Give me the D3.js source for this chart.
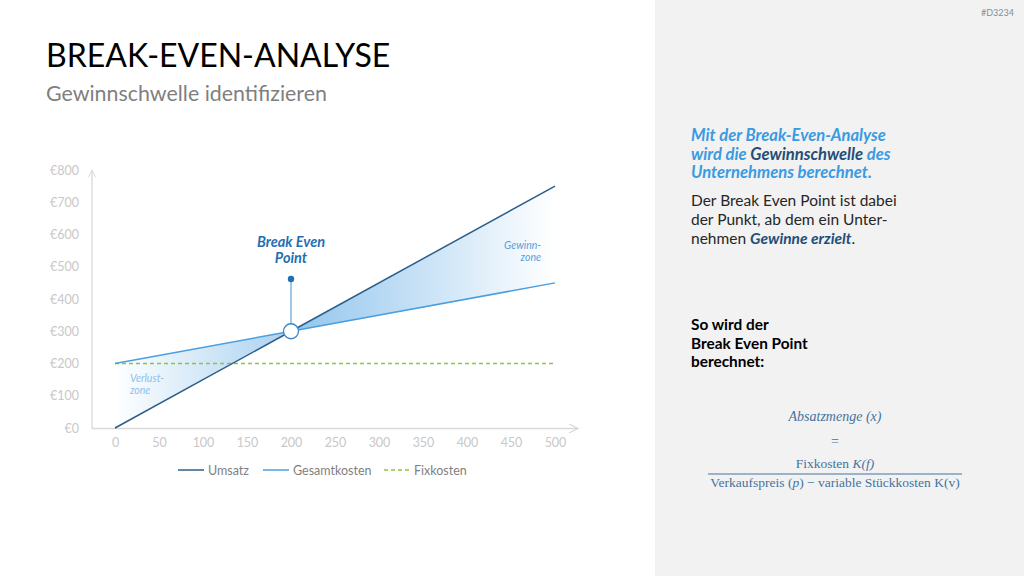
<!DOCTYPE html>
<html>
<head>
<meta charset="utf-8">
<script src="https://cdn.jsdelivr.net/npm/d3@7"></script>
<style>
  body { margin: 0; background: #fff; }
  svg { font-family: Lato, "Open Sans", sans-serif; }
</style>
</head>
<body>
<div id="chart"></div>
<script>
// data
var quantities = [0, 200, 500];
var umsatz = [0, 300, 750];
var gesamtkosten = [200, 300, 450];
var fixkosten = [200, 200, 200];
var breakEven = { x: 200, y: 300 };
var markerTop = 462;
var xTicks = [0, 50, 100, 150, 200, 250, 300, 350, 400, 450, 500];
var yTicks = [0, 100, 200, 300, 400, 500, 600, 700, 800];
var legendItems = ["Umsatz", "Gesamtkosten", "Fixkosten"];

var W = 1024, H = 576;
var svg = d3.select("#chart").append("svg")
    .attr("width", W)
    .attr("height", H);

// right grey panel
svg.append("rect")
    .attr("x", 655).attr("y", 0)
    .attr("width", W - 655).attr("height", H)
    .attr("fill", "#f2f2f2");

svg.append("text")
    .attr("x", 1014).attr("y", 16)
    .attr("text-anchor", "end")
    .attr("font-size", 9)
    .attr("fill", "#8c8c8c")
    .text("#D3234");

// title
svg.append("text")
    .attr("x", 46).attr("y", 67)
    .attr("font-size", 32)
    .attr("fill", "#000")
    .text("BREAK-EVEN-ANALYSE");
svg.append("text")
    .attr("x", 46).attr("y", 101)
    .attr("font-size", 21.4)
    .attr("fill", "#7f7f7f")
    .text("Gewinnschwelle identifizieren");

// scales
var x = d3.scaleLinear().domain([0, 500]).range([115, 555]);
var y = d3.scaleLinear().domain([0, 800]).range([428, 170]);

var defs = svg.append("defs");
var gLoss = defs.append("linearGradient")
    .attr("id", "lossGrad")
    .attr("gradientUnits", "userSpaceOnUse")
    .attr("x1", x(0)).attr("x2", x(200)).attr("y1", 0).attr("y2", 0);
gLoss.append("stop").attr("offset", "0%").attr("stop-color", "#ffffff");
gLoss.append("stop").attr("offset", "100%").attr("stop-color", "#a9d1f1");

var gWin = defs.append("linearGradient")
    .attr("id", "winGrad")
    .attr("gradientUnits", "userSpaceOnUse")
    .attr("x1", x(200)).attr("x2", x(500)).attr("y1", 0).attr("y2", 0);
gWin.append("stop").attr("offset", "0%").attr("stop-color", "#92c5ed");
gWin.append("stop").attr("offset", "100%").attr("stop-color", "#ffffff");

defs.append("marker")
    .attr("id", "arrow")
    .attr("viewBox", "0 0 10 10")
    .attr("refX", 9).attr("refY", 5)
    .attr("markerWidth", 7).attr("markerHeight", 7)
    .attr("orient", "auto")
    .append("path")
    .attr("d", "M1,1 L9,5 L1,9")
    .attr("fill", "none")
    .attr("stroke", "#d9d9d9")
    .attr("stroke-width", 1);

// zones
var rows = quantities.map(function(q, i) {
    return { q: q, u: umsatz[i], g: gesamtkosten[i], f: fixkosten[i] };
});
var area = d3.area()
    .x(function(d) { return x(d.q); })
    .y0(function(d) { return y(d.u); })
    .y1(function(d) { return y(d.g); });

svg.append("path")
    .datum(rows.filter(function(d) { return d.q <= breakEven.x; }))
    .attr("d", area)
    .attr("fill", "url(#lossGrad)");
svg.append("path")
    .datum(rows.filter(function(d) { return d.q >= breakEven.x; }))
    .attr("d", area)
    .attr("fill", "url(#winGrad)");

// axes
svg.append("line")
    .attr("x1", 92).attr("x2", 92)
    .attr("y1", 429).attr("y2", 170)
    .attr("stroke", "#d9d9d9").attr("stroke-width", 1.3)
    .attr("marker-end", "url(#arrow)");
svg.append("line")
    .attr("x1", 92).attr("x2", 578)
    .attr("y1", 428.5).attr("y2", 428.5)
    .attr("stroke", "#d9d9d9").attr("stroke-width", 1.6)
    .attr("marker-end", "url(#arrow)");

var yAxis = svg.append("g")
    .attr("transform", "translate(79,0)")
    .call(d3.axisLeft(y).tickValues(yTicks).tickSize(0).tickPadding(0)
        .tickFormat(function(d) { return "€" + d; }));
yAxis.select(".domain").remove();
yAxis.selectAll("text")
    .style("font-family", "Lato, sans-serif")
    .attr("font-size", 12.5)
    .attr("fill", "#c8c8c8");

var xAxis = svg.append("g")
    .attr("transform", "translate(0,438)")
    .call(d3.axisBottom(x).tickValues(xTicks).tickSize(0).tickPadding(0));
xAxis.select(".domain").remove();
xAxis.selectAll("text")
    .style("font-family", "Lato, sans-serif")
    .attr("font-size", 12.5)
    .attr("fill", "#c8c8c8");

// lines
var lineOf = function(key) {
    return d3.line()
        .x(function(d) { return x(d.q); })
        .y(function(d) { return y(d[key]); });
};
svg.append("path").datum(rows)
    .attr("d", lineOf("f"))
    .attr("fill", "none")
    .attr("stroke", "#8cc63e")
    .attr("stroke-width", 1.5)
    .attr("stroke-dasharray", "4,3");
svg.append("path").datum(rows)
    .attr("d", lineOf("g"))
    .attr("fill", "none")
    .attr("stroke", "#4a9fe0")
    .attr("stroke-width", 1.5);
svg.append("path").datum(rows)
    .attr("d", lineOf("u"))
    .attr("fill", "none")
    .attr("stroke", "#2d5e88")
    .attr("stroke-width", 1.5);

// zone labels
svg.append("text")
    .attr("x", 130).attr("y", 382)
    .attr("font-size", 10.5).attr("font-style", "italic")
    .attr("fill", "#8ec0ea")
    .selectAll("tspan").data(["Verlust-", "zone"]).enter()
    .append("tspan")
    .attr("x", 130)
    .attr("dy", function(d, i) { return i ? 12 : 0; })
    .text(function(d) { return d; });
svg.append("text")
    .attr("x", 541).attr("y", 249)
    .attr("font-size", 10.5).attr("font-style", "italic")
    .attr("fill", "#5a9fd6")
    .attr("text-anchor", "end")
    .selectAll("tspan").data(["Gewinn-", "zone"]).enter()
    .append("tspan")
    .attr("x", 541)
    .attr("dy", function(d, i) { return i ? 12 : 0; })
    .text(function(d) { return d; });

// break even marker
svg.append("line")
    .attr("x1", x(breakEven.x)).attr("x2", x(breakEven.x))
    .attr("y1", y(markerTop)).attr("y2", y(breakEven.y))
    .attr("stroke", "#6fa9da").attr("stroke-width", 1.3);
svg.append("circle")
    .attr("cx", x(breakEven.x)).attr("cy", y(markerTop))
    .attr("r", 3.2).attr("fill", "#1f6fb2");
svg.append("circle")
    .attr("cx", x(breakEven.x)).attr("cy", y(breakEven.y))
    .attr("r", 7.5)
    .attr("fill", "#fff")
    .attr("stroke", "#3d85c6").attr("stroke-width", 1.3);
svg.append("text")
    .attr("text-anchor", "middle")
    .attr("font-size", 14.5).attr("font-weight", "bold").attr("font-style", "italic")
    .attr("fill", "#1f6fb2")
    .selectAll("tspan").data(["Break Even", "Point"]).enter()
    .append("tspan")
    .attr("x", x(breakEven.x))
    .attr("y", function(d, i) { return 247 + i * 16; })
    .text(function(d) { return d; });

// legend
var legendColors = ["#2d5e88", "#4a9fe0", "#8cc63e"];
var legendX = [178, 263, 384];
var lg = svg.append("g");
legendItems.forEach(function(name, i) {
    lg.append("line")
        .attr("x1", legendX[i]).attr("x2", legendX[i] + 26)
        .attr("y1", 470).attr("y2", 470)
        .attr("stroke", legendColors[i])
        .attr("stroke-width", 1.5)
        .attr("stroke-dasharray", i === 2 ? "4,3" : null);
    lg.append("text")
        .attr("x", legendX[i] + 30).attr("y", 474.5)
        .attr("font-size", 12.5)
        .attr("fill", "#7f7f7f")
        .text(name);
});

// right panel text
function richLine(parent, xPos, yPos, parts, size) {
    var t = parent.append("text")
        .attr("x", xPos).attr("y", yPos)
        .attr("font-size", size);
    parts.forEach(function(p) {
        t.append("tspan")
            .attr("fill", p.c)
            .attr("font-weight", p.b ? "bold" : "normal")
            .attr("font-style", p.i ? "italic" : "normal")
            .text(p.t);
    });
}
var lightBlue = "#3a9ae2", darkBlue = "#1f4e79", dark = "#262626";
richLine(svg, 691, 141, [{ t: "Mit der Break-Even-Analyse", c: lightBlue, b: 1, i: 1 }], 16.6);
richLine(svg, 691, 160, [
    { t: "wird die ", c: lightBlue, b: 1, i: 1 },
    { t: "Gewinnschwelle", c: darkBlue, b: 1, i: 1 },
    { t: " des", c: lightBlue, b: 1, i: 1 }], 16.6);
richLine(svg, 691, 178, [{ t: "Unternehmens berechnet.", c: lightBlue, b: 1, i: 1 }], 16.6);

richLine(svg, 691, 206, [{ t: "Der Break Even Point ist dabei", c: dark }], 15.5);
richLine(svg, 691, 225, [{ t: "der Punkt, ab dem ein Unter-", c: dark }], 15.5);
richLine(svg, 691, 244, [
    { t: "nehmen ", c: dark },
    { t: "Gewinne erzielt", c: darkBlue, b: 1, i: 1 },
    { t: ".", c: dark }], 15.5);

["So wird der", "Break Even Point", "berechnet:"].forEach(function(s, i) {
    richLine(svg, 691, 330 + i * 18.5, [{ t: s, c: "#000", b: 1 }], 15.4);
});

// formula
var fx = 835, fColor = "#44739f", serif = "'Liberation Serif', 'DejaVu Serif', serif";
svg.append("text")
    .attr("x", fx).attr("y", 421)
    .attr("text-anchor", "middle")
    .style("font-family", serif)
    .attr("font-size", 14).attr("font-style", "italic")
    .attr("fill", fColor)
    .text("Absatzmenge (x)");
svg.append("text")
    .attr("x", fx).attr("y", 446)
    .attr("text-anchor", "middle")
    .style("font-family", serif)
    .attr("font-size", 14)
    .attr("fill", fColor)
    .text("=");
var num = svg.append("text")
    .attr("x", fx).attr("y", 468)
    .attr("text-anchor", "middle")
    .style("font-family", serif)
    .attr("font-size", 13.5)
    .attr("fill", fColor);
num.append("tspan").text("Fixkosten ");
num.append("tspan").attr("font-style", "italic").text("K(f)");
svg.append("line")
    .attr("x1", 708).attr("x2", 962)
    .attr("y1", 474).attr("y2", 474)
    .attr("stroke", fColor).attr("stroke-width", 1);
var den = svg.append("text")
    .attr("x", fx).attr("y", 487)
    .attr("text-anchor", "middle")
    .style("font-family", serif)
    .attr("font-size", 13.5)
    .attr("fill", fColor);
den.append("tspan").text("Verkaufspreis (");
den.append("tspan").attr("font-style", "italic").text("p");
den.append("tspan").text(") − variable Stückkosten K(v)");
</script>
</body>
</html>
